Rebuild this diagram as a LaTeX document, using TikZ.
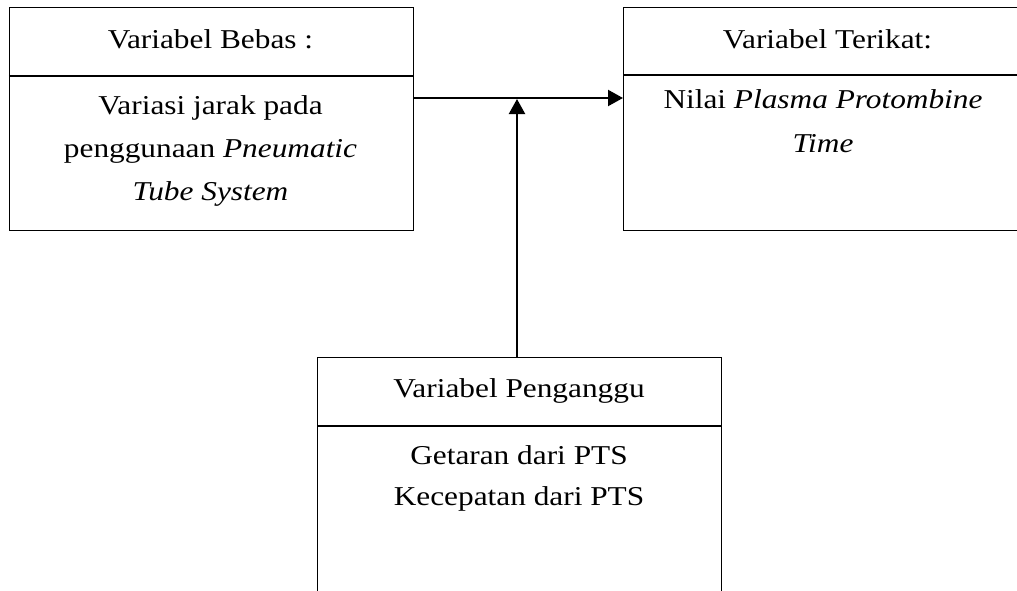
\documentclass[tikz,border=0pt]{standalone}
\usepackage{fontspec}
\setmainfont{Liberation Serif}[FakeStretch=1.15]
\usepackage{tikz}
\usetikzlibrary{arrows.meta, positioning}

\begin{document}
\begin{tikzpicture}[
    varbox/.style={draw, line width=0.6pt, rectangle, anchor=north west, inner sep=0pt},
    divline/.style={line width=0.6pt},
    txt/.style={font=\fontsize{15.5}{24}\selectfont, align=center, anchor=base, inner sep=0pt},
    arr/.style={line width=1.2pt, -{Triangle[length=0.3cm, width=0.32cm]}}
  ]
  \useasboundingbox (0,0) rectangle (20.34,-11.8);
  \clip (0,0) rectangle (20.34,-11.8);

  % kotak variabel
  \node[varbox, minimum width=8.08cm, minimum height=4.46cm] (bebas) at (0.18,-0.14) {};
  \node[varbox, minimum width=7.88cm, minimum height=4.46cm] (terikat) at (12.46,-0.14) {};
  \node[varbox, minimum width=8.08cm, minimum height=5.2cm] (ganggu) at (6.34,-7.14) {};

  % garis pemisah judul
  \draw[divline] ([yshift=-1.38cm]bebas.north west) -- ([yshift=-1.38cm]bebas.north east);
  \draw[divline] ([yshift=-1.36cm]terikat.north west) -- ([yshift=-1.36cm]terikat.north east);
  \draw[divline] ([yshift=-1.38cm]ganggu.north west) -- ([yshift=-1.38cm]ganggu.north east);

  % judul
  \node[txt] (bebasJudul) at (4.21,-0.96) {Variabel Bebas :};
  \node[txt] (terikatJudul) at (16.55,-0.96) {Variabel Terikat:};
  \node[txt] (gangguJudul) at (10.38,-7.94) {Variabel Penganggu};

  % isi (base = baris terakhir)
  \node[txt, font=\fontsize{15.5}{24.2}\selectfont] (bebasIsi) at (4.21,-4.00) {Variasi jarak pada\\penggunaan \textit{Pneumatic}\\\textit{Tube System}};
  \node[txt, font=\fontsize{15.5}{25}\selectfont] (terikatIsi) at (16.46,-3.04) {Nilai \textit{Plasma Protombine}\\\textit{Time}};
  \node[txt, font=\fontsize{15.5}{22.8}\selectfont] (gangguIsi) at (10.38,-10.10) {Getaran dari PTS\\Kecepatan dari PTS};

  % panah
  \coordinate (temu) at (10.34,-1.96);
  \draw[arr] (bebas.east |- temu) -- (terikat.west |- temu);
  \draw[arr, shorten >=0.02cm] (ganggu.north -| temu) -- (temu);
\end{tikzpicture}
\end{document}
